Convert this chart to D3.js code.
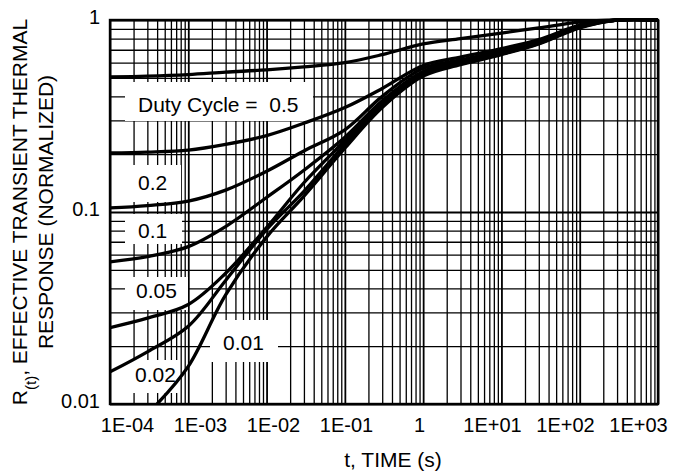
<!DOCTYPE html>
<html>
<head>
<meta charset="utf-8">
<script src="https://cdn.jsdelivr.net/npm/d3@7"></script>
<style>
  body { margin: 0; background: #fff; }
  text { font-family: "Liberation Sans", Arial, Helvetica, sans-serif; fill: #000; }
</style>
</head>
<body>
<div id="chart"></div>
<script>
// Data
var timePoints = [1e-4, 3e-4, 1e-3, 3e-3, 1e-2, 3e-2, 0.1, 0.3, 1, 3, 10, 30, 100, 300, 1000];

var resp050 = [0.505, 0.51, 0.52, 0.535, 0.55, 0.57, 0.60, 0.66, 0.75, 0.80, 0.855, 0.91, 0.975, 1.0, 1.0];
var resp020 = [0.203, 0.205, 0.21, 0.225, 0.25, 0.29, 0.35, 0.44, 0.58, 0.64, 0.71, 0.79, 0.94, 1.0, 1.0];
var resp010 = [0.105, 0.108, 0.114, 0.13, 0.163, 0.208, 0.268, 0.40, 0.56, 0.62, 0.69, 0.78, 0.93, 1.0, 1.0];
var resp005 = [0.055, 0.0585, 0.066, 0.084, 0.119, 0.165, 0.245, 0.38, 0.54, 0.61, 0.68, 0.77, 0.925, 1.0, 1.0];
var resp002 = [0.025, 0.028, 0.033, 0.048, 0.083, 0.142, 0.235, 0.37, 0.53, 0.60, 0.67, 0.76, 0.92, 1.0, 1.0];
var resp001 = [0.0147, 0.0187, 0.0254, 0.044, 0.081, 0.128, 0.225, 0.36, 0.52, 0.59, 0.665, 0.755, 0.915, 1.0, 1.0];

var singleTime = [4e-4, 1e-3, 3e-3, 1e-2, 3e-2, 0.1, 0.3, 1, 3, 10, 30, 100, 300, 1000];
var singleResp = [0.0100, 0.0157, 0.037, 0.074, 0.121, 0.215, 0.35, 0.51, 0.585, 0.66, 0.75, 0.91, 1.0, 1.0];

var xTickValues = [1e-4, 1e-3, 1e-2, 1e-1, 1, 1e1, 1e2, 1e3];
var xTickLabels = ["1E-04", "1E-03", "1E-02", "1E-01", "1", "1E+01", "1E+02", "1E+03"];
var yTickValues = [0.01, 0.1, 1];
var yTickLabels = ["0.01", "0.1", "1"];

// Chart setup
var svgWidth = 685;
var svgHeight = 472;

var margin = {
  top: 20,
  right: 27,
  bottom: 68,
  left: 110
};

var width = svgWidth - margin.left - margin.right;
var height = svgHeight - margin.top - margin.bottom;

var svg = d3.select("#chart").append("svg")
  .attr("width", svgWidth)
  .attr("height", svgHeight);

var chartGroup = svg.append("g")
  .attr("transform", `translate(${margin.left}, ${margin.top})`);

// Scales
var xScale = d3.scaleLog().domain([1e-4, 1e3]).range([0, width]);
var yScale = d3.scaleLog().domain([0.01, 1]).range([height, 0]);
// the tick labels in the original sit on a slightly narrower span
var xLabelScale = d3.scaleLog().domain([1e-4, 1e3]).range([17, 528]);

// Grid values (1..9 per decade)
var xGrid = [];
for (var e = -4; e < 3; e++) {
  for (var k = 1; k < 10; k++) xGrid.push(+(k * Math.pow(10, e)).toPrecision(3));
}
xGrid.push(1000);
var yGrid = [];
for (var e2 = -2; e2 < 0; e2++) {
  for (var k2 = 1; k2 < 10; k2++) yGrid.push(+(k2 * Math.pow(10, e2)).toPrecision(3));
}
yGrid.push(1);

function isDecade(v) {
  var l = Math.log10(v);
  return Math.abs(l - Math.round(l)) < 1e-6;
}

// Vertical grid
var xGridG = chartGroup.append("g")
  .attr("transform", `translate(0, ${height})`)
  .call(d3.axisBottom(xScale).tickValues(xGrid).tickSize(-height).tickFormat(""));
xGridG.select(".domain").remove();
xGridG.selectAll(".tick line")
  .attr("stroke", "#000")
  .attr("stroke-width", d => isDecade(d) ? 1.8 : 1.3);

// Horizontal grid
var yGridG = chartGroup.append("g")
  .call(d3.axisLeft(yScale).tickValues(yGrid).tickSize(-width).tickFormat(""));
yGridG.select(".domain").remove();
yGridG.selectAll(".tick line")
  .attr("stroke", "#000")
  .attr("stroke-width", d => isDecade(d) ? 1.8 : 1.3);

// Label boxes (white patches over the grid) and the labels
var labelBoxes = [
  { text: "Duty Cycle =  0.5", x0: 15, x1: 203, y0: 62, y1: 101, tx: 28, ty: 92 },
  { text: "0.2", x0: 2, x1: 71, y0: 145, y1: 182, tx: 28, ty: 170 },
  { text: "0.1", x0: 15, x1: 72, y0: 194, y1: 224, tx: 28, ty: 218 },
  { text: "0.05", x0: 15, x1: 78, y0: 257, y1: 290, tx: 26, ty: 278 },
  { text: "0.02", x0: 2, x1: 70, y0: 340, y1: 373, tx: 25, ty: 362 },
  { text: "0.01", x0: 100, x1: 168, y0: 300, y1: 342, tx: 113, ty: 330 }
];

chartGroup.selectAll(".lblbox")
  .data(labelBoxes)
  .enter()
  .append("rect")
  .attr("class", "lblbox")
  .attr("x", d => d.x0)
  .attr("y", d => d.y0)
  .attr("width", d => d.x1 - d.x0)
  .attr("height", d => d.y1 - d.y0)
  .attr("fill", "#fff");

chartGroup.selectAll(".lbltext")
  .data(labelBoxes)
  .enter()
  .append("text")
  .attr("class", "lbltext")
  .attr("x", d => d.tx)
  .attr("y", d => d.ty)
  .attr("font-size", "21px")
  .style("white-space", "pre")
  .text(d => d.text);

// Curves
var series = [resp050, resp020, resp010, resp005, resp002, resp001].map(function(vals) {
  return vals.map(function(v, i) { return { t: timePoints[i], r: v }; });
});
series.push(singleResp.map(function(v, i) { return { t: singleTime[i], r: v }; }));

svg.append("defs").append("clipPath").attr("id", "plotclip")
  .append("rect").attr("x", 0).attr("y", -1.7).attr("width", width).attr("height", height + 1.7);

var line = d3.line()
  .x(d => xScale(d.t))
  .y(d => yScale(d.r))
  .curve(d3.curveCatmullRom.alpha(0.5));

chartGroup.append("g")
  .attr("clip-path", "url(#plotclip)")
  .selectAll("path")
  .data(series)
  .enter()
  .append("path")
  .attr("d", line)
  .attr("fill", "none")
  .attr("stroke", "#000")
  .attr("stroke-width", 3.3)
  .attr("stroke-linejoin", "round");

// Frame
chartGroup.append("rect")
  .attr("x", 0)
  .attr("y", 0)
  .attr("width", width)
  .attr("height", height)
  .attr("fill", "none")
  .attr("stroke", "#000")
  .attr("stroke-width", 2.4);

// Axis labels
var xAxis = chartGroup.append("g")
  .attr("transform", `translate(0, ${height})`)
  .call(d3.axisBottom(xLabelScale).tickValues(xTickValues).tickSize(0).tickPadding(14)
    .tickFormat((d, i) => xTickLabels[i]));
xAxis.select(".domain").remove();
xAxis.selectAll("text").attr("font-size", "20px").attr("font-family", null);

var yAxis = chartGroup.append("g")
  .call(d3.axisLeft(yScale).tickValues(yTickValues).tickSize(0).tickPadding(10)
    .tickFormat((d, i) => yTickLabels[i]));
yAxis.select(".domain").remove();
yAxis.selectAll("text").attr("font-size", "20px").attr("dy", "0.15em").attr("font-family", null);

// Axis titles
svg.append("text")
  .attr("x", 393)
  .attr("y", 467)
  .attr("text-anchor", "middle")
  .attr("font-size", "21px")
  .text("t, TIME (s)");

var yTitle = svg.append("text")
  .attr("transform", "translate(27, 212) rotate(-90)")
  .attr("text-anchor", "middle")
  .attr("font-size", "21px");
yTitle.append("tspan").text("R");
yTitle.append("tspan").attr("font-size", "15px").attr("baseline-shift", "sub").text("(t)");
yTitle.append("tspan").text(", EFFECTIVE TRANSIENT THERMAL");

svg.append("text")
  .attr("transform", "translate(53, 212) rotate(-90)")
  .attr("text-anchor", "middle")
  .attr("font-size", "21px")
  .text("RESPONSE (NORMALIZED)");
</script>
</body>
</html>
